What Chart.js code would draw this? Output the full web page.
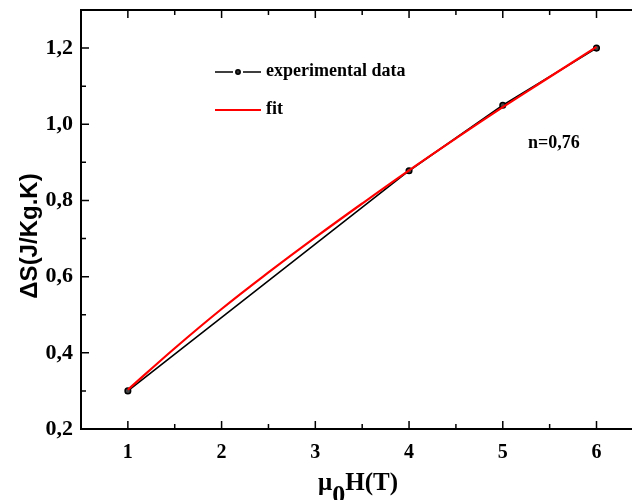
<!DOCTYPE html>
<html>
<head>
<meta charset="utf-8">
<script src="https://cdn.jsdelivr.net/npm/chart.js@4/dist/chart.umd.min.js"></script>
<style>
  html, body { margin: 0; padding: 0; background: #fff; overflow: hidden; }
  #wrap { width: 632px; height: 500px; }
</style>
</head>
<body>
<div id="wrap"><canvas id="c" width="632" height="500"></canvas></div>
<script>
// ---- data ----
const fieldT = [1, 4, 5, 6];
const deltaS = [0.30, 0.878, 1.05, 1.20];
const fitField = [1, 1.5, 2, 2.5, 3, 3.5, 4, 4.5, 5, 5.5, 6];
const fitDeltaS = [0.303, 0.412, 0.515, 0.611, 0.703, 0.792, 0.879, 0.963, 1.045, 1.124, 1.203];
const xTicks = [1, 2, 3, 4, 5, 6];
const xTickLabels = ['1', '2', '3', '4', '5', '6'];
const yTicks = [0.2, 0.4, 0.6, 0.8, 1.0, 1.2];
const yTickLabels = ['0,2', '0,4', '0,6', '0,8', '1,0', '1,2'];
const legendLabels = ['experimental data', 'fit'];
const annotationText = 'n=0,76';
const yTitle = '\u0394S(J/Kg.K)';

const SERIF = '"Liberation Serif", "Times New Roman", serif';
const SANS = '"Liberation Sans", Arial, sans-serif';

const decor = {
  id: 'decor',
  afterDraw(chart) {
    const ctx = chart.ctx;
    const a = chart.chartArea;
    const xs = chart.scales.x, ys = chart.scales.y;
    const W = chart.width;
    ctx.save();
    ctx.strokeStyle = '#000';
    ctx.fillStyle = '#000';
    // top and bottom frame lines (frame runs off the right edge)
    ctx.lineWidth = 2;
    ctx.beginPath();
    ctx.moveTo(a.left - 1, a.top);
    ctx.lineTo(W, a.top);
    ctx.moveTo(a.left - 1, a.bottom);
    ctx.lineTo(W, a.bottom);
    ctx.stroke();
    // inward ticks
    ctx.lineWidth = 1.5;
    const major = 8, minor = 5;
    ctx.beginPath();
    xTicks.forEach((v) => {
      const px = xs.getPixelForValue(v);
      ctx.moveTo(px, a.bottom); ctx.lineTo(px, a.bottom - major);
      ctx.moveTo(px, a.top); ctx.lineTo(px, a.top + major);
      [v - 0.5, v + 0.5].forEach(m => {
        const mp = xs.getPixelForValue(m);
        if (mp > a.left + 2 && mp < W - 1) {
          ctx.moveTo(mp, a.bottom); ctx.lineTo(mp, a.bottom - minor);
          ctx.moveTo(mp, a.top); ctx.lineTo(mp, a.top + minor);
        }
      });
    });
    yTicks.forEach((v) => {
      const py = ys.getPixelForValue(v);
      ctx.moveTo(a.left, py); ctx.lineTo(a.left + major, py);
      const mp = ys.getPixelForValue(v + 0.1);
      if (mp > a.top + 2) { ctx.moveTo(a.left, mp); ctx.lineTo(a.left + minor, mp); }
    });
    ctx.stroke();

    // y title
    ctx.save();
    ctx.translate(30, 236);
    ctx.rotate(-Math.PI / 2);
    ctx.font = 'bold 24px ' + SANS;
    ctx.textAlign = 'center';
    ctx.textBaseline = 'middle';
    ctx.fillText(yTitle, 0, 0);
    ctx.restore();

    // x title with subscript
    ctx.textBaseline = 'alphabetic';
    ctx.textAlign = 'left';
    const mu = '\u03bc', sub = '0', rest = 'H(T)';
    ctx.font = 'bold 25px ' + SERIF;
    const wMu = ctx.measureText(mu).width;
    const wRest = ctx.measureText(rest).width;
    ctx.font = 'bold 26px ' + SERIF;
    const wSub = ctx.measureText(sub).width;
    const total = wMu + wSub + wRest;
    const x0 = 358 - total / 2;
    ctx.font = 'bold 25px ' + SERIF;
    ctx.fillText(mu, x0, 490);
    ctx.fillText(rest, x0 + wMu + wSub, 490);
    ctx.font = 'bold 26px ' + SERIF;
    ctx.fillText(sub, x0 + wMu, 503);

    // legend
    ctx.lineWidth = 1.5;
    ctx.strokeStyle = '#000';
    ctx.beginPath();
    ctx.moveTo(215, 72); ctx.lineTo(233, 72);
    ctx.moveTo(243, 72); ctx.lineTo(261, 72);
    ctx.stroke();
    ctx.beginPath();
    ctx.arc(238, 72, 2.2, 0, Math.PI * 2);
    ctx.fillStyle = '#333';
    ctx.fill();
    ctx.stroke();
    ctx.strokeStyle = '#ff0000';
    ctx.lineWidth = 2;
    ctx.beginPath();
    ctx.moveTo(215, 110); ctx.lineTo(261, 110);
    ctx.stroke();
    ctx.fillStyle = '#000';
    ctx.font = 'bold 18px ' + SERIF;
    ctx.textBaseline = 'middle';
    ctx.fillText(legendLabels[0], 266, 71);
    ctx.fillText(legendLabels[1], 266, 109);

    // annotation
    ctx.font = 'bold 18px ' + SERIF;
    ctx.fillText(annotationText, 528, 143);
    ctx.restore();
  }
};

new Chart(document.getElementById('c'), {
  type: 'scatter',
  data: {
    datasets: [
      {
        label: legendLabels[1],
        data: fitField.map((x, i) => ({ x, y: fitDeltaS[i] })),
        showLine: true,
        borderColor: '#ff0000',
        borderWidth: 2.2,
        pointRadius: 0,
        tension: 0.4,
        order: 1
      },
      {
        label: legendLabels[0],
        data: fieldT.map((x, i) => ({ x, y: deltaS[i] })),
        showLine: true,
        borderColor: '#000',
        borderWidth: 1.6,
        pointRadius: 2.8,
        pointBorderWidth: 1.5,
        pointBackgroundColor: '#444',
        pointBorderColor: '#000',
        order: 2
      }
    ]
  },
  options: {
    responsive: false,
    animation: false,
    devicePixelRatio: 1,
    layout: { padding: { top: 10, right: 0, left: 0, bottom: 0 } },
    plugins: { legend: { display: false }, tooltip: { enabled: false } },
    scales: {
      x: {
        type: 'linear',
        min: 0.5,
        max: 6.32,
        afterBuildTicks: (s) => { s.ticks = xTicks.map(v => ({ value: v })); },
        afterFit: (s) => { s.height = 71; s.paddingLeft = 0; s.paddingRight = 0; },
        grid: { display: false, drawTicks: false },
        border: { display: false },
        ticks: {
          padding: 12,
          color: '#000',
          font: { family: SERIF, size: 20, weight: 'bold' },
          callback: (v) => xTickLabels[xTicks.indexOf(v)]
        }
      },
      y: {
        type: 'linear',
        min: 0.2,
        max: 1.3,
        afterBuildTicks: (s) => { s.ticks = yTicks.map(v => ({ value: v })); },
        afterFit: (s) => { s.width = 81; s.paddingTop = 0; s.paddingBottom = 0; },
        grid: { display: false, drawTicks: false },
        border: { display: true, color: '#000', width: 2 },
        ticks: {
          padding: 8,
          color: '#000',
          font: { family: SERIF, size: 22, weight: 'bold' },
          callback: (v) => {
            const i = yTicks.findIndex(t => Math.abs(t - v) < 1e-6);
            return i >= 0 ? yTickLabels[i] : '';
          }
        }
      }
    }
  },
  plugins: [decor]
});
</script>
</body>
</html>
